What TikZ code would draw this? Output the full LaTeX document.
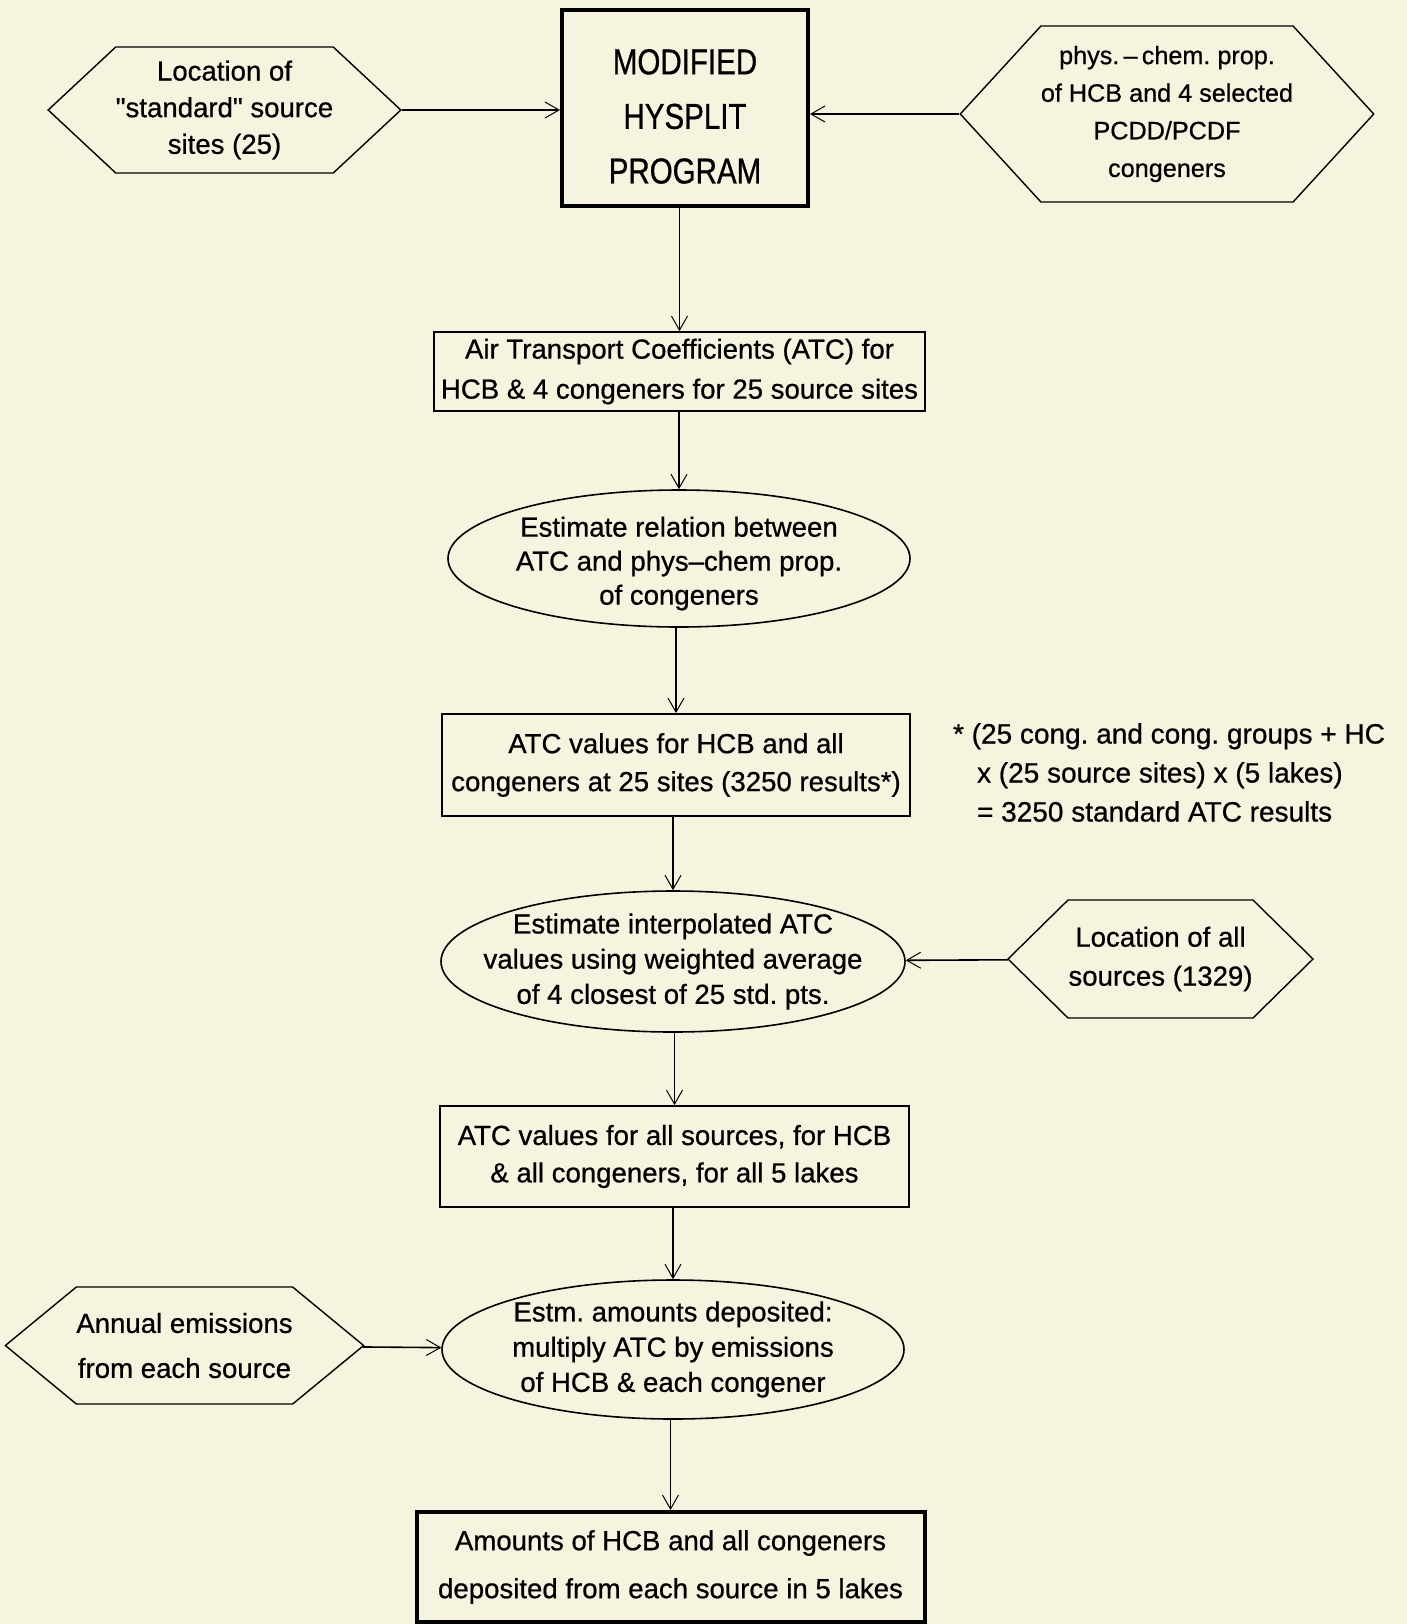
\documentclass[tikz,border=0pt]{standalone}
\usepackage{fontspec}
\setmainfont{Liberation Sans}[UprightFeatures={FakeBold=0.7}]
\newfontfamily\narrowsans{Liberation Sans}[FakeStretch=0.82, UprightFeatures={FakeBold=0.7}]
\usepackage{tikz}
\usetikzlibrary{shapes.geometric,shapes.symbols,arrows.meta}
\definecolor{paper}{RGB}{246,243,222}
\frenchspacing

\begin{document}
\begin{tikzpicture}[
    x=0.5pt, y=-0.5pt,
    fs/.style={font=\fontsize{13.8}{#1}\selectfont},
    box/.style={draw, line width=0.9pt, align=center, inner sep=0pt},
    bigbox/.style={box, line width=2pt},
    oval/.style={draw, ellipse, line width=0.8pt, inner sep=0pt},
    hex/.style={draw, signal, signal to=east and west, line width=0.7pt, align=center, inner sep=0pt},
    arr/.style={line width=0.8pt, -{Straight Barb[length=7pt,width=8pt,line width=0.5pt]}},
]
\fill[paper] (0,0) rectangle (1407,1624);
\useasboundingbox (0,0) rectangle (1407,1624);

% main column
\node[bigbox, minimum width=123pt, minimum height=98pt, font=\narrowsans\fontsize{18}{27.3}\selectfont] (prog) at (685,108) {\rule{0pt}{21pt}MODIFIED\\HYSPLIT\\PROGRAM};
\node[box, fs=20, minimum width=245.5pt, minimum height=39.5pt] (atc) at (679.5,371.5) {Air Transport Coefficients (ATC) for\\HCB \& 4 congeners for 25 source sites};
\node[oval, minimum width=231pt, minimum height=68.5pt] (rel) at (679,558.5) {};
\node[fs=17, align=center] (relt) at ([yshift=-2.5pt]rel) {Estimate relation between\\ATC and phys--chem prop.\\of congeners};
\node[box, fs=19, minimum width=234pt, minimum height=51pt] (vals) at (676,765) {ATC values for HCB and all\\congeners at 25 sites (3250 results*)};
\node[oval, minimum width=232pt, minimum height=70.5pt] (interp) at (673,961.5) {};
\node[fs=17.6, align=center] (interpt) at (interp) {Estimate interpolated ATC\\values using weighted average\\of 4 closest of 25 std. pts.};
\node[box, fs=18.7, minimum width=234.5pt, minimum height=50.5pt] (allval) at (674.5,1156.5) {ATC values for all sources, for HCB\\\& all congeners, for all 5 lakes};
\node[oval, minimum width=231pt, minimum height=69.5pt] (dep) at (673,1349.5) {};
\node[fs=17.6, align=center] (dept) at (dep) {Estm. amounts deposited:\\multiply ATC by emissions\\of HCB \& each congener};
\node[bigbox, fs=24, minimum width=254pt, minimum height=55pt] (amt) at (670.5,1567) {Amounts of HCB and all congeners\\deposited from each source in 5 lakes};

% inputs
\node[hex, fs=18.3, minimum width=172.5pt, minimum height=63pt, signal pointer angle=86] (lsite) at (224.5,110) {Location of\\\textquotedbl standard\textquotedbl\ source\\sites (25)};
\node[hex, font=\fontsize{12.6}{18.8}\selectfont, minimum width=200pt, minimum height=88pt, signal pointer angle=95] (phys) at (1167,114) {phys.\,--\,chem. prop.\\of HCB and 4 selected\\PCDD/PCDF\\congeners};
\node[hex, fs=19.5, minimum width=152.5pt, minimum height=59pt, signal pointer angle=89] (allsrc) at (1160.5,959) {Location of all\\sources (1329)};
\node[hex, fs=22.5, minimum width=177.5pt, minimum height=58.5pt, signal pointer angle=79] (emis) at (184.5,1345.5) {Annual emissions\\from each source};

% footnote
\node[anchor=west, align=left, font=\fontsize{14}{19.5}\selectfont] (note) at (946,772.5) {* (25 cong. and cong. groups + HC\\\hspace*{12pt}x (25 source sites) x (5 lakes)\\\hspace*{12pt}= 3250 standard ATC results};

% arrows
\draw[arr] (lsite.east) -- (lsite.east -| prog.west);
\draw[arr] (phys.west) -- (phys.west -| prog.east);
\draw[arr] (prog.south -| atc) -- (atc);
\draw[arr] (atc.south -| rel) -- (rel);
\draw[arr] (rel.south -| vals) -- (vals);
\draw[arr] (vals.south -| interp) -- (interp);
\draw[arr] (allsrc) -- (interp);
\draw[arr] (interp.south -| allval) -- (allval);
\draw[arr] (allval.south -| dep) -- (dep);
\draw[arr] (emis) -- (dep);
\draw[arr] (dep.south -| amt) -- (amt);
\end{tikzpicture}
\end{document}
